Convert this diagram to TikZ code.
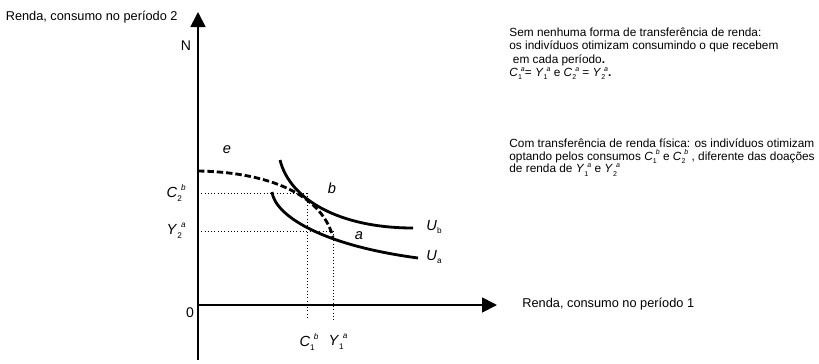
\documentclass[tikz,border=0pt]{standalone}
\usepackage{fontspec}
\setmainfont{Liberation Sans}
\usetikzlibrary{positioning,arrows.meta}
\newcommand{\tinyidx}{\fontsize{6}{6}\selectfont}
\newcommand{\vsym}[3]{\textit{#1}\rlap{\raisebox{-0.5ex}{\tinyidx #2}}\raisebox{0.85ex}{\hspace{0.25em}\tinyidx\itshape #3}}

\begin{document}
\begin{tikzpicture}[x=0.03cm,y=-0.03cm,
    every node/.style={font=\fontsize{10.9}{13}\selectfont,inner sep=1pt},
    varlabel/.style={font=\fontsize{12.5}{14}\selectfont\renewcommand{\tinyidx}{\fontsize{7}{7}\selectfont}},
    sidetext/.style={anchor=north west,align=left},
    axis/.style={line width=1.5pt,-{Triangle[length=4.5mm,width=4.5mm]}},
    curve/.style={line width=2.4pt},
    guide/.style={dotted,line width=0.8pt}]
  \useasboundingbox (0,0) rectangle (819,363);
  % axes
  \coordinate (ybot) at (198,360);
  \coordinate (ytop) at (198,12);
  \coordinate (O) at (198,305);
  \coordinate (xend) at (497,305);
  \draw[axis] (ybot) -- (ytop);
  \draw[axis] (O) -- (xend);
  \node[anchor=east] (ylab) at (179,17) {Renda, consumo no período 2};
  \node[anchor=west] (xlab) at (521,304) {Renda, consumo no período 1};
  \node[font=\fontsize{12}{14}\selectfont] (N) at (186,46) {N};
  \node[font=\fontsize{12}{14}\selectfont] (zero) at (190,313) {0};

  % curves
  \coordinate (e0) at (198,171);
  \coordinate (e1) at (333,237);
  \draw[curve,dash pattern=on 5.5pt off 2.5pt] (e0) .. controls (260,172) and (320,190) .. (e1);
  \coordinate (ub0) at (280,160);
  \coordinate (ub1) at (413,228);
  \draw[curve] (ub0) .. controls (290,200) and (340,228) .. (ub1);
  \coordinate (ua0) at (272,192);
  \coordinate (ua1) at (418,258);
  \draw[curve] (ua0) .. controls (275,215) and (320,245) .. (ua1);

  % guides
  \coordinate (pb) at (307,193);
  \coordinate (pa) at (333,231);
  \coordinate (gb) at (307,320);
  \coordinate (ga) at (333,320);
  \draw[guide] (O|-pb) -- (pb) -- (gb);
  \draw[guide] (O|-pa) -- (pa) -- (ga);

  % labels
  \node[varlabel] (le) at (227,150) {\textit{e}};
  \node[varlabel] (lb) at (332,188) {\textit{b}};
  \node[varlabel] (la) at (359,236) {\textit{a}};
  \node[varlabel,anchor=west] (lub) at (425,227) {\vsym{U}{b}{}};
  \node[varlabel,anchor=west] (lua) at (425,257) {\vsym{U}{a}{}};
  \node[varlabel,anchor=east] (c2b) at (187,193) {\vsym{C}{2}{b}};
  \node[varlabel,anchor=east] (y2a) at (187,231) {\vsym{Y}{2}{a}};
  \node[varlabel] (c1b) at (309,342) {\vsym{C}{1}{b}};
  \node[varlabel] (y1a) at (338,342) {\vsym{Y}{1}{a}};

  % right-hand text
  \node[sidetext,font=\fontsize{10.1}{11.6}\selectfont] (txt1) at (508,26)
    {Sem nenhuma forma de transferência de renda:\\
     os indivíduos otimizam consumindo o que recebem\\
     \hspace{0.3em}em cada período\textbf{.}\\
     \vsym{C}{1}{a}= \vsym{Y}{1}{a} e \vsym{C}{2}{a} = \vsym{Y}{2}{a}\textbf{.}};
  \node[sidetext,font=\fontsize{10.1}{11}\selectfont] (txt2) at (508,137)
    {Com transferência de renda física: os indivíduos otimizam\\
     optando pelos consumos \vsym{C}{1}{b} e \vsym{C}{2}{b} , diferente das doações\\
     de renda de \vsym{Y}{1}{a} e \vsym{Y}{2}{a}};
\end{tikzpicture}
\end{document}
